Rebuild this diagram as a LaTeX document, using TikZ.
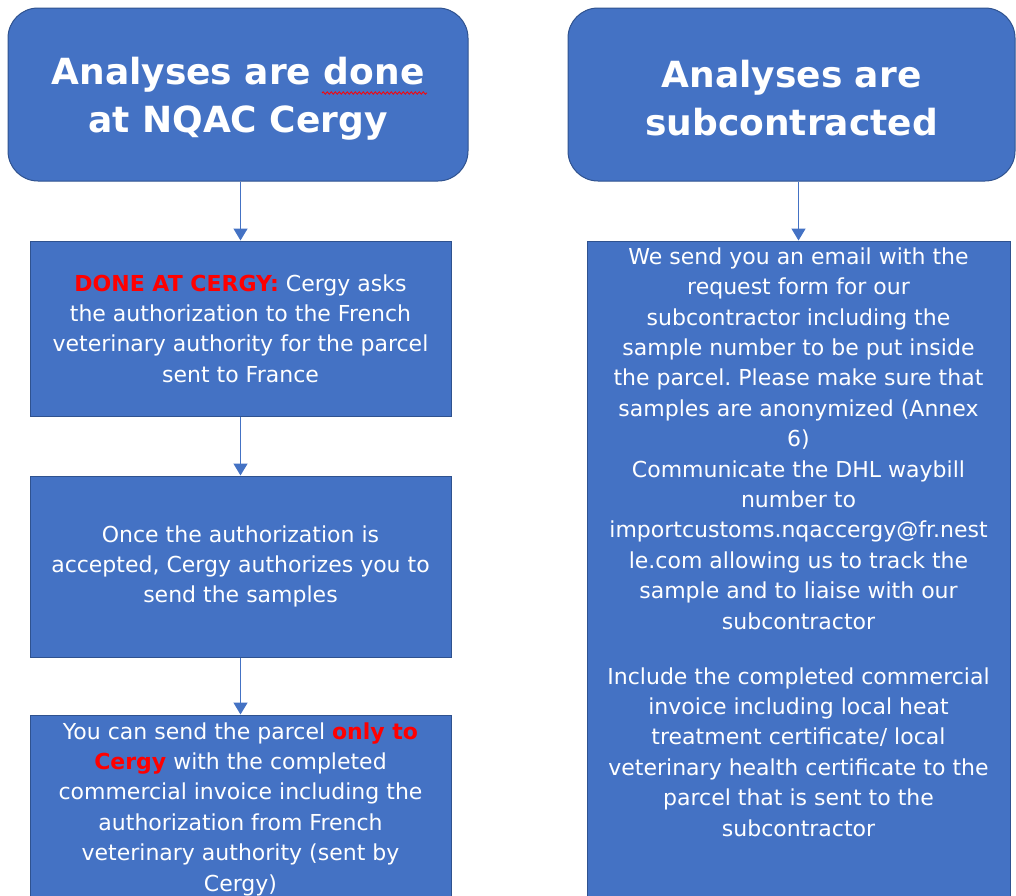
\documentclass[tikz,border=0pt]{standalone}
\usepackage{fontspec}
\setmainfont{DejaVu Sans}
\frenchspacing
\usetikzlibrary{arrows.meta,decorations.pathmorphing,calc}
\definecolor{boxblue}{HTML}{4472C4}
\definecolor{boxedge}{HTML}{2F528F}
\definecolor{hotred}{HTML}{FF0000}
\newcommand{\warn}[1]{\textcolor{hotred}{\bfseries #1}}
\newcommand{\hdstrut}{\rule{0pt}{35pt}}
\begin{document}
\begin{tikzpicture}[x=1pt,y=-1pt,
  hdbox/.style={draw=boxedge, line width=1pt, fill=boxblue, rounded corners=30pt, inner sep=0pt,
    text=white, font=\fontsize{36}{48}\selectfont\bfseries, align=center},
  stepbox/.style={draw=boxedge, line width=1pt, fill=boxblue, inner sep=0pt,
    text=white, font=\fontsize{22}{30.4}\selectfont, align=center},
  bodytext/.style={inner sep=0pt, text=white, font=\fontsize{22}{30.4}\selectfont, align=center},
  arr/.style={draw=boxblue, line width=1.5pt, -{Triangle[width=14pt,length=12pt]}}
]
\useasboundingbox (0,0) rectangle (1016,895);
\clip (0,0) rectangle (1016,895);

% headers
\node[hdbox, minimum width=460pt, minimum height=173pt] (hdL) at (238,94.5)
  {\hdstrut Analyses are done\\at NQAC Cergy};
\node[hdbox, minimum width=447pt, minimum height=173pt] (hdR) at (791.5,94.5)
  {\hdstrut Analyses are\\subcontracted};
% spelling squiggle under "done"
\draw[hotred, line width=0.8pt, decorate, decoration={snake, amplitude=1.2pt, segment length=4pt}]
  (322,93) -- (427,93);

% left column
\node[stepbox, minimum width=421pt, minimum height=175pt] (L1) at (240.5,328.5)
  {\warn{DONE AT CERGY:} Cergy asks\\the authorization to the French\\veterinary authority for the parcel\\sent to France};
\node[stepbox, minimum width=421pt, minimum height=181pt] (L2) at (240.5,566.5)
  {Once the authorization is\\accepted, Cergy authorizes you to\\send the samples};
\node[stepbox, minimum width=421pt, minimum height=245pt] (L3) at (240.5,837.5) {};
\node[bodytext] (L3txt) at (240.5,809)
  {You can send the parcel \warn{only to}\\\warn{Cergy} with the completed\\commercial invoice including the\\authorization from French\\veterinary authority (sent by\\Cergy)};

% right column
\node[stepbox, minimum width=423pt, minimum height=719pt] (R) at (798.5,600.5) {};
\node[bodytext] (Rtxt) at (798.5,542)
  {We send you an email with the\\request form for our\\subcontractor including the\\sample number to be put inside\\the parcel. Please make sure that\\samples are anonymized (Annex\\6)\\Communicate the DHL waybill\\number to\\importcustoms.nqaccergy@fr.nest\\le.com allowing us to track the\\sample and to liaise with our\\subcontractor\\[24.5pt]Include the completed commercial\\invoice including local heat\\treatment certificate/ local\\veterinary health certificate to the\\parcel that is sent to the\\subcontractor};

% connectors
\draw[arr] (hdL.south -| L1.north) -- (L1.north);
\draw[arr] (L1) -- (L2);
\draw[arr] (L2) -- (L3);
\draw[arr] (hdR.south -| R.north) -- (R.north);
\end{tikzpicture}
\end{document}
